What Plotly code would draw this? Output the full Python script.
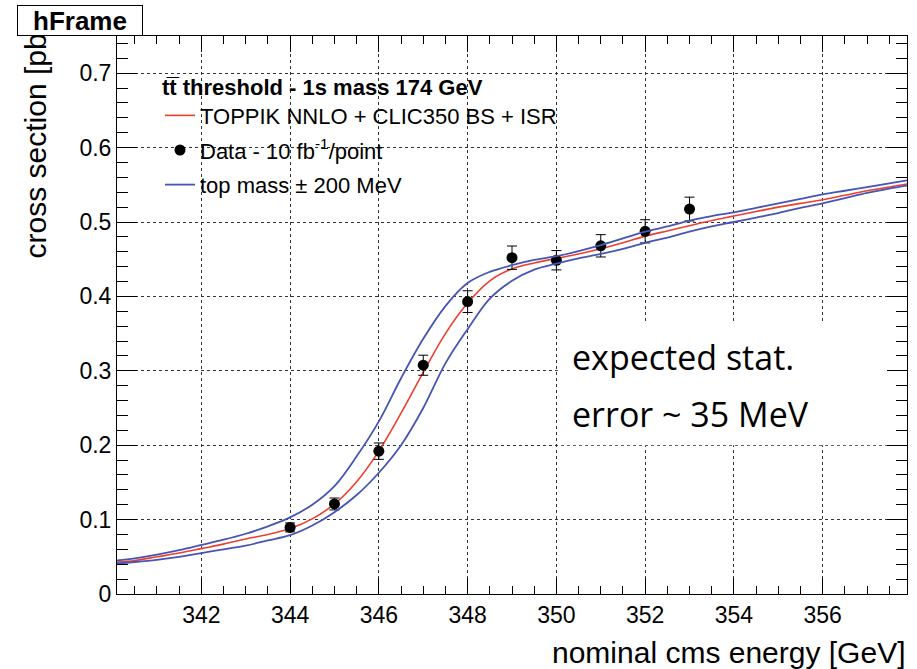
import plotly.graph_objects as go

# ---- data ----
energy_grid = [340.1, 340.5, 341, 341.5, 342, 342.5, 343, 343.5, 344, 344.5, 345, 345.5,
               346, 346.5, 347, 347.5, 348, 348.5, 349, 349.5, 350, 350.5, 351, 351.5,
               352, 352.5, 353, 353.5, 354, 354.5, 355, 355.5, 356, 356.5, 357, 357.5, 357.9]
xsec_nominal = [0.043, 0.045, 0.050, 0.055, 0.061, 0.067, 0.074, 0.080, 0.088, 0.101, 0.121, 0.151,
                0.192, 0.243, 0.298, 0.350, 0.391, 0.421, 0.437, 0.445, 0.451, 0.457, 0.464, 0.472,
                0.481, 0.488, 0.495, 0.502, 0.508, 0.514, 0.520, 0.525, 0.530, 0.536, 0.542, 0.547, 0.551]
xsec_mass_minus = [0.045, 0.048, 0.053, 0.059, 0.066, 0.073, 0.081, 0.091, 0.103, 0.120, 0.145, 0.185,
                   0.232, 0.290, 0.343, 0.387, 0.418, 0.433, 0.442, 0.449, 0.454, 0.461, 0.469, 0.478,
                   0.487, 0.494, 0.502, 0.508, 0.513, 0.519, 0.525, 0.531, 0.537, 0.542, 0.547, 0.552, 0.556]
xsec_mass_plus = [0.041, 0.043, 0.046, 0.050, 0.055, 0.060, 0.065, 0.072, 0.079, 0.092, 0.110, 0.133,
                  0.163, 0.200, 0.250, 0.310, 0.356, 0.397, 0.421, 0.436, 0.444, 0.451, 0.457, 0.464,
                  0.472, 0.479, 0.487, 0.494, 0.500, 0.506, 0.512, 0.519, 0.525, 0.532, 0.539, 0.545, 0.549]

data_energy = [344, 345, 346, 347, 348, 349, 350, 351, 352, 353]
data_xsec = [0.0895, 0.121, 0.192, 0.3075, 0.393, 0.452, 0.4486, 0.468, 0.4875, 0.5174]
data_err = [0.006, 0.008, 0.011, 0.0135, 0.0146, 0.0157, 0.013, 0.015, 0.0156, 0.016]

x_ticks = [342, 344, 346, 348, 350, 352, 354, 356]
y_ticks = [0, 0.1, 0.2, 0.3, 0.4, 0.5, 0.6, 0.7]

RED = "rgb(238,62,44)"
BLUE = "rgb(70,85,180)"
FONT = "Liberation Sans, Arial, sans-serif"

fig = go.Figure()

fig.add_trace(go.Scatter(x=energy_grid, y=xsec_nominal, mode="lines",
                         line=dict(color=RED, width=1.6, shape="spline"),
                         name="TOPPIK NNLO + CLIC350 BS + ISR", legendgroup="a"))
fig.add_trace(go.Scatter(x=data_energy, y=data_xsec, mode="markers",
                         marker=dict(color="black", size=11),
                         error_y=dict(type="data", array=data_err, color="black", thickness=1, width=5),
                         name="Data - 10 fb<sup>-1</sup>/point", legendgroup="b"))
fig.add_trace(go.Scatter(x=energy_grid, y=xsec_mass_minus, mode="lines",
                         line=dict(color=BLUE, width=1.8, shape="spline"),
                         name="top mass \u00b1 200 MeV", legendgroup="c"))
fig.add_trace(go.Scatter(x=energy_grid, y=xsec_mass_plus, mode="lines",
                         line=dict(color=BLUE, width=1.8, shape="spline"),
                         showlegend=False, legendgroup="c"))

# white pave behind the text (hides grid lines)
fig.add_shape(type="rect", xref="x", yref="y", x0=350.03, x1=357.9, y0=0.2, y1=0.364,
              fillcolor="white", line=dict(width=0), layer="between")

grid_common = dict(showgrid=True, gridcolor="#333", gridwidth=1, griddash="3px,3px")

fig.update_xaxes(range=[340.1, 357.9], tickvals=x_ticks, ticks="inside", ticklen=16,
                 tickcolor="black", showline=True, linecolor="black", linewidth=1,
                 mirror="allticks", zeroline=False,
                 minor=dict(ticks="inside", ticklen=8, dtick=0.5, tick0=340, tickcolor="black", showgrid=False),
                 tickfont=dict(family=FONT, size=23, color="black"), **grid_common)
fig.update_yaxes(range=[0, 0.75], tickvals=y_ticks, ticks="inside", ticklen=20,
                 tickcolor="black", showline=True, linecolor="black", linewidth=1,
                 mirror="allticks", zeroline=False,
                 minor=dict(ticks="inside", ticklen=11, dtick=0.02, tick0=0, tickcolor="black", showgrid=False),
                 tickfont=dict(family=FONT, size=23, color="black"), **grid_common)

W, H = 917, 669
L, R, T, B = 117, 10, 36, 75
pw, ph = W - L - R, H - T - B

def px(xp):
    return (xp - L) / pw

def py(yp):
    return (H - B - yp) / ph

annotations = [
    dict(text="cross section [pb]", xref="paper", yref="paper", x=px(35), y=py(24),
         xanchor="center", yanchor="top", textangle=-90, showarrow=False,
         font=dict(family=FONT, size=30, color="black")),
    dict(text="nominal cms energy [GeV]", xref="paper", yref="paper", x=px(907), y=py(652),
         xanchor="right", yanchor="middle", showarrow=False,
         font=dict(family=FONT, size=30, color="black")),
    dict(text="<b>hFrame</b>", xref="paper", yref="paper", x=px(17), y=py(5),
         xanchor="left", yanchor="top", showarrow=False, width=124, height=29,
         bgcolor="white", bordercolor="black", borderwidth=1, borderpad=0,
         font=dict(family=FONT, size=26, color="black")),
    dict(text="expected stat.", xref="paper", yref="paper", x=px(570), y=py(357),
         xanchor="left", yanchor="middle", showarrow=False,
         font=dict(family="Open Sans", size=34, color="black")),
    dict(text="error ~ 35 MeV", xref="paper", yref="paper", x=px(570), y=py(414),
         xanchor="left", yanchor="middle", showarrow=False,
         font=dict(family="Open Sans", size=34, color="black")),
]

fig.update_layout(
    width=W, height=H, margin=dict(l=L, r=R, t=T, b=B),
    plot_bgcolor="white", paper_bgcolor="white",
    showlegend=True,
    legend=dict(x=px(160), y=py(66), xanchor="left", yanchor="top",
                bgcolor="rgba(255,255,255,0)", borderwidth=0,
                traceorder="grouped", tracegroupgap=3,
                title=dict(text="<b>tt\u0305 threshold - 1s mass 174 GeV</b>",
                           font=dict(family=FONT, size=22, color="black")),
                font=dict(family=FONT, size=22, color="black")),
    annotations=annotations,
)

fig.write_html("out.html")
